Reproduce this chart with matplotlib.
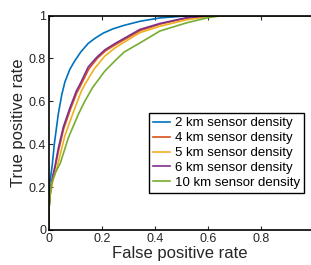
import matplotlib
matplotlib.use("Agg")
import matplotlib.pyplot as plt

plt.rcParams['font.family'] = ['Liberation Sans', 'DejaVu Sans']

# ROC curves
fpr_2km = [0, 0, 0.003, 0.012, 0.02, 0.035, 0.048, 0.06, 0.079, 0.098, 0.12, 0.148,
           0.175, 0.205, 0.24, 0.28, 0.343, 0.42, 0.52, 0.6, 0.99]
tpr_2km = [0, 0.12, 0.22, 0.30, 0.40, 0.54, 0.63, 0.69, 0.75, 0.79, 0.83, 0.87,
           0.895, 0.918, 0.937, 0.953, 0.973, 0.989, 0.998, 1.0, 1.0]

fpr_4km = [0, 0, 0.005, 0.012, 0.023, 0.036, 0.055, 0.08, 0.105, 0.118, 0.15, 0.182,
           0.213, 0.252, 0.285, 0.345, 0.42, 0.52, 0.6, 0.65, 0.99]
tpr_4km = [0, 0.1, 0.17, 0.23, 0.29, 0.37, 0.47, 0.56, 0.64, 0.67, 0.75, 0.80,
           0.835, 0.865, 0.888, 0.93, 0.96, 0.988, 0.998, 1.0, 1.0]

fpr_5km = [0, 0, 0.005, 0.015, 0.03, 0.042, 0.06, 0.092, 0.123, 0.136, 0.17, 0.21,
           0.25, 0.283, 0.343, 0.419, 0.52, 0.6, 0.65, 0.99]
tpr_5km = [0, 0.1, 0.17, 0.23, 0.29, 0.35, 0.44, 0.55, 0.65, 0.68, 0.75, 0.81,
           0.85, 0.875, 0.92, 0.95, 0.98, 0.995, 1.0, 1.0]

fpr_6km = [0, 0, 0.005, 0.012, 0.023, 0.035, 0.054, 0.079, 0.104, 0.117, 0.148, 0.18,
           0.211, 0.25, 0.283, 0.343, 0.419, 0.52, 0.6, 0.65, 0.99]
tpr_6km = [0, 0.1, 0.18, 0.24, 0.30, 0.38, 0.48, 0.57, 0.65, 0.68, 0.76, 0.805,
           0.84, 0.87, 0.893, 0.935, 0.963, 0.99, 0.998, 1.0, 1.0]

fpr_10km = [0, 0, 0.005, 0.01, 0.025, 0.042, 0.05, 0.073, 0.111, 0.135, 0.165, 0.21,
            0.25, 0.283, 0.343, 0.419, 0.52, 0.6, 0.66, 0.99]
tpr_10km = [0, 0.1, 0.17, 0.22, 0.27, 0.31, 0.34, 0.43, 0.54, 0.60, 0.665, 0.74,
            0.79, 0.829, 0.872, 0.928, 0.966, 0.99, 1.0, 1.0]

labels = ['2 km sensor density', '4 km sensor density', '5 km sensor density',
          '6 km sensor density', '10 km sensor density']
colors = ['#0072BD', '#D95319', '#EDB120', '#7E2F8E', '#77AC30']

fig = plt.figure(figsize=(3.11, 2.65), dpi=100)
ax = fig.add_axes([49 / 311, 35 / 265, 1 - 49 / 311, 214.5 / 265])

curves = [(fpr_2km, tpr_2km), (fpr_4km, tpr_4km), (fpr_5km, tpr_5km),
          (fpr_6km, tpr_6km), (fpr_10km, tpr_10km)]
for (x, y), lab, c in zip(curves, labels, colors):
    ax.plot(x, y, color=c, linewidth=1.2, label=lab)

ax.set_xlim(0, 262 / 265)
ax.set_ylim(0, 1)
ax.set_xticks([0, 0.2, 0.4, 0.6, 0.8])
ax.set_xticklabels(['0', '0.2', '0.4', '0.6', '0.8'])
ax.set_yticks([0, 0.2, 0.4, 0.6, 0.8, 1])
ax.set_yticklabels(['0', '0.2', '0.4', '0.6', '0.8', '1'])
ax.tick_params(direction='in', length=3, width=0.8, labelsize=9, pad=2,
               top=True, right=False, colors='#262626')
ax.spines['right'].set_visible(False)
for s in ['left', 'bottom', 'top']:
    ax.spines[s].set_linewidth(1.2)
    ax.spines[s].set_color('black')

ax.set_xlabel('False positive rate', fontsize=12, labelpad=1, color='#262626')
ax.set_ylabel('True positive rate', fontsize=12, labelpad=2, color='#262626')

leg = ax.legend(loc='lower left', bbox_to_anchor=(0.381, 0.173), borderaxespad=0,
                fontsize=9.5, handlelength=1.3, handletextpad=0.4, labelspacing=0.2,
                borderpad=0.3, fancybox=False, framealpha=1)
leg.get_frame().set_edgecolor('black')
leg.get_frame().set_linewidth(1.0)

fig.savefig('out.png', dpi=100)
